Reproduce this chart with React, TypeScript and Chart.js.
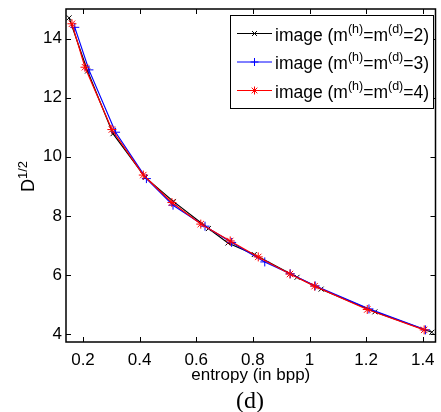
import React, { useEffect, useRef } from 'react';
import { Chart, registerables } from 'chart.js';

Chart.register(...registerables);

// Data
const entropy2 = [0.151, 0.216, 0.306, 0.42, 0.52, 0.643, 0.712, 0.805, 0.956, 1.041, 1.231, 1.432];
const dist2 = [14.7, 12.9, 10.78, 9.3, 8.48, 7.57, 7.08, 6.69, 5.92, 5.52, 4.75, 4.06];

const entropy3 = [0.171, 0.221, 0.315, 0.424, 0.518, 0.631, 0.725, 0.842, 0.932, 1.02, 1.21, 1.41];
const dist3 = [14.38, 12.94, 10.83, 9.26, 8.36, 7.65, 7.1, 6.44, 6.04, 5.63, 4.85, 4.14];

const entropy4 = [0.161, 0.207, 0.302, 0.413, 0.514, 0.616, 0.72, 0.819, 0.931, 1.018, 1.204, 1.405];
const dist4 = [14.5, 13.03, 10.92, 9.38, 8.45, 7.72, 7.15, 6.61, 6.03, 5.62, 4.83, 4.14];

const mValues = ['2', '3', '4'];
const seriesColors = ['#000000', '#0000ff', '#ff0000'];
const seriesMarkers = ['crossRot', 'cross', 'star'];

const xTicks = [0.2, 0.4, 0.6, 0.8, 1, 1.2, 1.4];
const yTicks = [4, 6, 8, 10, 12, 14];
const X_MIN = 0.14;
const X_MAX = 1.445;
const Y_MIN = 3.73;
const Y_MAX = 15;

const xTitle = 'entropy (in bpp)';
const yTitleMain = 'D';
const yTitleSup = '1/2';
const panelLabel = '(d)';

const FONT = "'Liberation Sans', Arial, sans-serif";

function toPoints(xs: number[], ys: number[]) {
  return xs.map((x, i) => ({ x, y: ys[i] }));
}

function drawMarker(ctx: CanvasRenderingContext2D, style: string, x: number, y: number, r: number) {
  ctx.beginPath();
  if (style === 'cross' || style === 'star') {
    ctx.moveTo(x - r, y);
    ctx.lineTo(x + r, y);
    ctx.moveTo(x, y - r);
    ctx.lineTo(x, y + r);
  }
  if (style === 'crossRot' || style === 'star') {
    const d = r * Math.SQRT1_2;
    ctx.moveTo(x - d, y - d);
    ctx.lineTo(x + d, y + d);
    ctx.moveTo(x - d, y + d);
    ctx.lineTo(x + d, y - d);
  }
  ctx.stroke();
}

const decorPlugin = {
  id: 'decor',
  afterDraw(chart: any) {
    const ctx: CanvasRenderingContext2D = chart.ctx;
    const { left, right, top, bottom } = chart.chartArea;
    const xs = chart.scales.x;
    const ys = chart.scales.y;
    ctx.save();
    // frame
    ctx.strokeStyle = '#000';
    ctx.lineWidth = 1.5;
    ctx.strokeRect(left, top, right - left, bottom - top);
    // inward ticks
    ctx.lineWidth = 1;
    ctx.beginPath();
    const tl = 5;
    xTicks.forEach((v) => {
      const px = Math.round(xs.getPixelForValue(v)) + 0.5;
      ctx.moveTo(px, bottom);
      ctx.lineTo(px, bottom - tl);
      ctx.moveTo(px, top);
      ctx.lineTo(px, top + tl);
    });
    yTicks.forEach((v) => {
      const py = Math.round(ys.getPixelForValue(v)) + 0.5;
      ctx.moveTo(left, py);
      ctx.lineTo(left + tl, py);
      ctx.moveTo(right, py);
      ctx.lineTo(right - tl, py);
    });
    ctx.stroke();

    // y axis title with superscript
    ctx.save();
    ctx.translate(28, (top + bottom) / 2 + 1);
    ctx.rotate(-Math.PI / 2);
    ctx.fillStyle = '#000';
    ctx.textBaseline = 'alphabetic';
    ctx.textAlign = 'left';
    ctx.font = `18px ${FONT}`;
    const wD = ctx.measureText(yTitleMain).width;
    ctx.font = `13px ${FONT}`;
    const wS = ctx.measureText(yTitleSup).width;
    const start = -(wD + wS) / 2;
    ctx.font = `18px ${FONT}`;
    ctx.fillText(yTitleMain, start, 6);
    ctx.font = `13px ${FONT}`;
    ctx.fillText(yTitleSup, start + wD, -1);
    ctx.restore();

    // legend
    const bx = 230, by = 15, bw = 203, bh = 93;
    ctx.fillStyle = '#fff';
    ctx.fillRect(bx, by, bw, bh);
    ctx.strokeStyle = '#000';
    ctx.lineWidth = 1;
    ctx.strokeRect(bx + 0.5, by + 0.5, bw, bh);
    const rows = [33.5, 62, 90.5];
    mValues.forEach((m, i) => {
      const ry = rows[i];
      ctx.strokeStyle = seriesColors[i];
      ctx.lineWidth = 1;
      ctx.beginPath();
      ctx.moveTo(237, ry);
      ctx.lineTo(272, ry);
      ctx.stroke();
      drawMarker(ctx, seriesMarkers[i], 254.5, ry, seriesMarkers[i] === 'crossRot' ? 3.5 : 4);
      const segs: { t: string; sup?: boolean }[] = [
        { t: 'image (m' },
        { t: '(h)', sup: true },
        { t: '=m' },
        { t: '(d)', sup: true },
        { t: `=${m})` },
      ];
      let tx = 275;
      ctx.fillStyle = '#000';
      ctx.textAlign = 'left';
      ctx.textBaseline = 'alphabetic';
      segs.forEach((s) => {
        ctx.font = s.sup ? `12.5px ${FONT}` : `17.5px ${FONT}`;
        ctx.fillText(s.t, tx, s.sup ? ry - 1 : ry + 7);
        tx += ctx.measureText(s.t).width;
      });
    });
    ctx.restore();
  },
};

export default function App() {
  const canvasRef = useRef<HTMLCanvasElement | null>(null);

  useEffect(() => {
    const canvas = canvasRef.current;
    if (!canvas) return;
    const seriesX = [entropy2, entropy3, entropy4];
    const seriesY = [dist2, dist3, dist4];
    const datasets = mValues.map((m, i) => ({
      label: `image (m(h)=m(d)=${m})`,
      data: toPoints(seriesX[i], seriesY[i]),
      borderColor: seriesColors[i],
      backgroundColor: seriesColors[i],
      pointStyle: seriesMarkers[i],
      pointRadius: seriesMarkers[i] === 'crossRot' ? 3.5 : 4.5,
      pointBorderWidth: 1,
      pointBorderColor: seriesColors[i],
      borderWidth: 1.2,
      showLine: true,
      fill: false,
      tension: 0,
      order: 2 - i,
    }));
    const chart = new Chart(canvas, {
      type: 'scatter',
      data: { datasets: datasets as any },
      options: {
        animation: false,
        responsive: false,
        devicePixelRatio: 1,
        layout: { padding: { top: 9, right: 1, left: 0, bottom: 0 } },
        plugins: {
          legend: { display: false },
          tooltip: { enabled: false },
        },
        scales: {
          x: {
            type: 'linear',
            min: X_MIN,
            max: X_MAX,
            afterBuildTicks: (scale: any) => {
              scale.ticks = xTicks.map((v) => ({ value: v }));
            },
            afterFit: (scale: any) => {
              scale.height = 70;
              scale.paddingLeft = 0;
              scale.paddingRight = 0;
            },
            grid: { display: false, drawTicks: false },
            border: { display: false },
            ticks: {
              color: '#000',
              font: { family: FONT, size: 17 },
              padding: 8,
              maxRotation: 0,
              autoSkip: false,
              callback: (v: any) => String(Number(Number(v).toFixed(1))),
            },
            title: {
              display: true,
              text: xTitle,
              color: '#000',
              font: { family: FONT, size: 17 },
              padding: { top: 0, bottom: 26 },
            },
          },
          y: {
            type: 'linear',
            min: Y_MIN,
            max: Y_MAX,
            afterBuildTicks: (scale: any) => {
              scale.ticks = yTicks.map((v) => ({ value: v }));
            },
            afterFit: (scale: any) => {
              scale.width = 66;
              scale.paddingTop = 0;
              scale.paddingBottom = 0;
            },
            grid: { display: false, drawTicks: false },
            border: { display: false },
            ticks: {
              color: '#000',
              font: { family: FONT, size: 17 },
              padding: 4,
              autoSkip: false,
              callback: (v: any) => String(v),
            },
          },
        },
      },
      plugins: [decorPlugin],
    } as any);
    return () => chart.destroy();
  }, []);

  return (
    <div style={{ position: 'absolute', left: 0, top: 0, width: 441, height: 412, background: '#fff' }}>
      <canvas ref={canvasRef} width={441} height={412} style={{ display: 'block', width: 441, height: 412 }} />
      <div
        style={{
          position: 'absolute',
          left: 250,
          top: 388,
          transform: 'translateX(-50%)',
          fontFamily: "'Liberation Serif', 'Times New Roman', serif",
          fontSize: 24,
          lineHeight: '24px',
          color: '#000',
          whiteSpace: 'nowrap',
        }}
      >
        {panelLabel}
      </div>
    </div>
  );
}
